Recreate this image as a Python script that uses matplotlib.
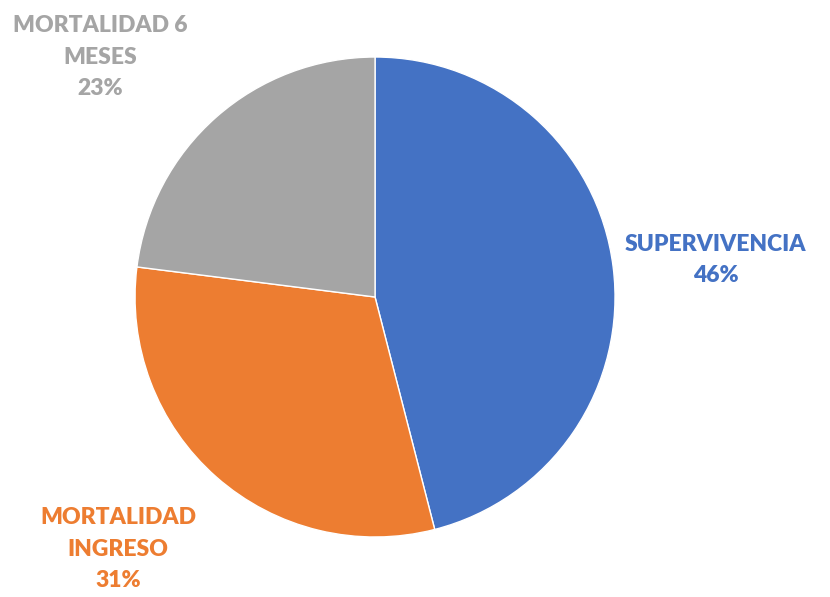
import matplotlib.pyplot as plt

# Data
labels = ["SUPERVIVENCIA", "MORTALIDAD\nINGRESO", "MORTALIDAD 6\nMESES"]
values = [46, 31, 23]
colors = ["#4472C4", "#ED7D31", "#A5A5A5"]

# where each label goes (pie radius = 1)
label_pos = [(1.42, 0.154), (-1.07, -1.05), (-1.146, 1.0)]

plt.rcParams['font.family'] = ['Lato', 'DejaVu Sans']

fig = plt.figure(figsize=(8.3, 5.97), dpi=100)
ax = fig.add_axes([0.1627, 0.1005, 0.5783, 0.804])

ax.pie(values, colors=colors, startangle=90, counterclock=False,
       wedgeprops=dict(edgecolor="white", linewidth=1.0))

for lab, val, col, (x, y) in zip(labels, values, colors, label_pos):
    ax.text(x, y, f"{lab}\n{val}%", color=col, fontsize=16.5, fontweight="heavy",
            ha="center", va="center", linespacing=1.62)

ax.set_xlim(-1, 1)
ax.set_ylim(-1, 1)
ax.set_aspect("equal")
ax.axis("off")

fig.savefig("out.png", dpi=100)
